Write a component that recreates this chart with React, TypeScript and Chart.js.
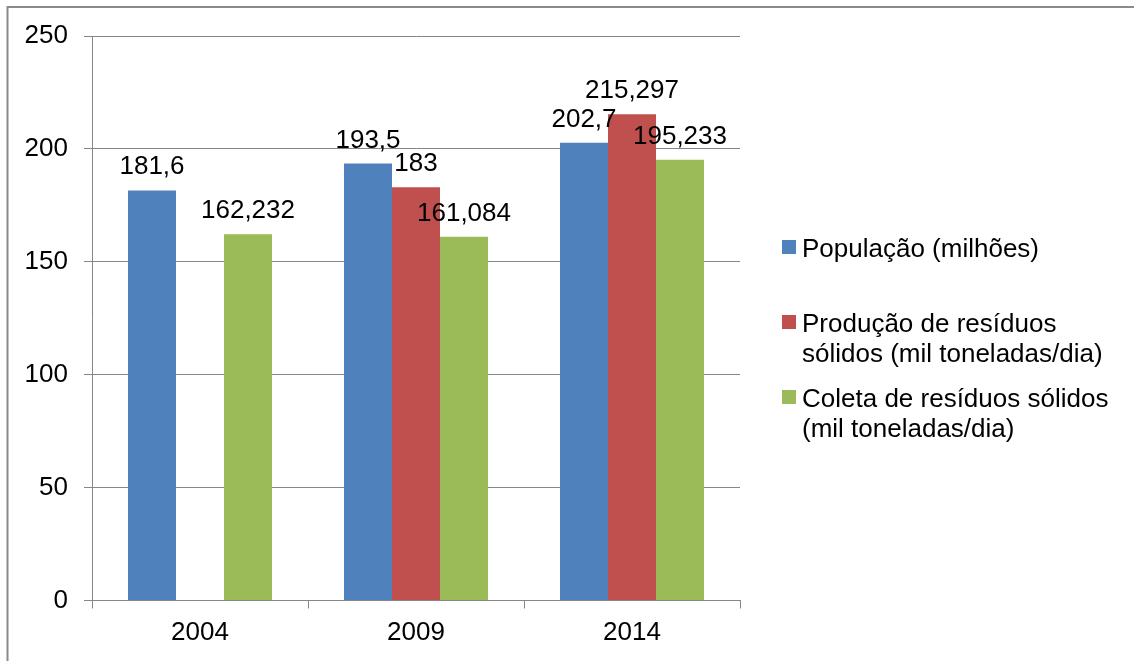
import React, { useEffect, useRef } from "react";
import { Chart, registerables } from "chart.js";

Chart.register(...registerables);

const categories = ["2004", "2009", "2014"];
const populacao = [181.6, 193.5, 202.7];
const producao = [null, 183, 215.297];
const coleta = [162.232, 161.084, 195.233];
const seriesNames = [
  "População (milhões)",
  "Produção de resíduos sólidos (mil toneladas/dia)",
  "Coleta de resíduos sólidos (mil toneladas/dia)",
];
const seriesColors = ["#4F81BD", "#C0504D", "#9BBB59"];
const yMin = 0;
const yMax = 250;
const yStep = 50;

const FONT_FAMILY = '"Liberation Sans", Arial, sans-serif';
const FONT_SIZE = 26;
const GRID = "#868686";

const fmt = (v: number) => String(v).replace(".", ",");

const wrapText = (ctx: CanvasRenderingContext2D, text: string, maxW: number) => {
  const words = text.split(" ");
  const lines: string[] = [];
  let cur = "";
  for (const w of words) {
    const test = cur ? cur + " " + w : w;
    if (ctx.measureText(test).width > maxW && cur) {
      lines.push(cur);
      cur = w;
    } else {
      cur = test;
    }
  }
  if (cur) lines.push(cur);
  return lines;
};

const framePlugin = {
  id: "frame",
  beforeDraw(chart: any) {
    const ctx = chart.ctx;
    ctx.save();
    ctx.fillStyle = "#fff";
    ctx.fillRect(0, 0, chart.width, chart.height);
    ctx.strokeStyle = "#8a8a8a";
    ctx.lineWidth = 2;
    ctx.beginPath();
    ctx.moveTo(chart.width, 7);
    ctx.lineTo(7.5, 7);
    ctx.lineTo(7.5, chart.height);
    ctx.stroke();
    ctx.restore();
  },
};

const labelPlugin = {
  id: "valueLabels",
  afterDatasetsDraw(chart: any) {
    const ctx = chart.ctx;
    ctx.save();
    ctx.font = `${FONT_SIZE}px ${FONT_FAMILY}`;
    ctx.fillStyle = "#000";
    ctx.textAlign = "center";
    ctx.textBaseline = "alphabetic";
    chart.data.datasets.forEach((ds: any, i: number) => {
      const meta = chart.getDatasetMeta(i);
      meta.data.forEach((el: any, j: number) => {
        const v = ds.data[j];
        if (v === null || v === undefined) return;
        ctx.fillText(fmt(v), el.x, el.y - 16);
      });
    });
    ctx.restore();
  },
};

const legendPlugin = {
  id: "sideLegend",
  afterDraw(chart: any) {
    const ctx = chart.ctx;
    const area = chart.chartArea;
    ctx.save();
    ctx.font = `${FONT_SIZE}px ${FONT_FAMILY}`;
    ctx.textAlign = "left";
    ctx.textBaseline = "alphabetic";
    const boxX = area.right + 42;
    const textX = area.right + 62;
    const firstBaseline = 257;
    const entryGap = 75;
    const lineH = 29.5;
    chart.data.datasets.forEach((ds: any, i: number) => {
      const base = firstBaseline + i * entryGap;
      ctx.fillStyle = ds.backgroundColor;
      ctx.fillRect(boxX, base - 17, 14, 14);
      ctx.fillStyle = "#000";
      const lines = wrapText(ctx, ds.label, 320);
      lines.forEach((ln, k) => ctx.fillText(ln, textX, base + k * lineH));
    });
    ctx.restore();
  },
};

export default function App() {
  const ref = useRef<HTMLCanvasElement | null>(null);
  useEffect(() => {
    if (!ref.current) return;
    const font = { family: FONT_FAMILY, size: FONT_SIZE };
    const chart = new Chart(ref.current, {
      type: "bar",
      data: {
        labels: categories,
        datasets: [populacao, producao, coleta].map((d, i) => ({
          label: seriesNames[i],
          data: d as any,
          backgroundColor: seriesColors[i],
          borderWidth: 0,
          categoryPercentage: 0.6667,
          barPercentage: 1,
        })),
      },
      options: {
        responsive: false,
        animation: false,
        devicePixelRatio: 1,
        layout: { padding: { left: 0, top: 36, right: 394, bottom: 0 } },
        plugins: {
          legend: { display: false },
          tooltip: { enabled: false },
        },
        scales: {
          x: {
            grid: {
              offset: true,
              drawOnChartArea: false,
              drawTicks: true,
              tickLength: 8,
              color: GRID,
            },
            border: { display: true, color: GRID, width: 1 },
            ticks: { font, color: "#000", padding: 9 },
            afterFit: (s: any) => {
              s.height = 60.5;
            },
          },
          y: {
            min: yMin,
            max: yMax,
            ticks: { stepSize: yStep, font, color: "#000", padding: 16 },
            grid: { color: GRID, tickLength: 8, drawTicks: true },
            border: { display: true, color: GRID, width: 1 },
            afterFit: (s: any) => {
              s.width = 92;
            },
          },
        },
      },
      plugins: [framePlugin, labelPlugin, legendPlugin],
    });
    return () => chart.destroy();
  }, []);
  return (
    <div style={{ position: "absolute", left: 0, top: 0, width: 1134, height: 661, overflow: "hidden" }}>
      <canvas ref={ref} width={1134} height={661} style={{ display: "block" }} />
    </div>
  );
}
